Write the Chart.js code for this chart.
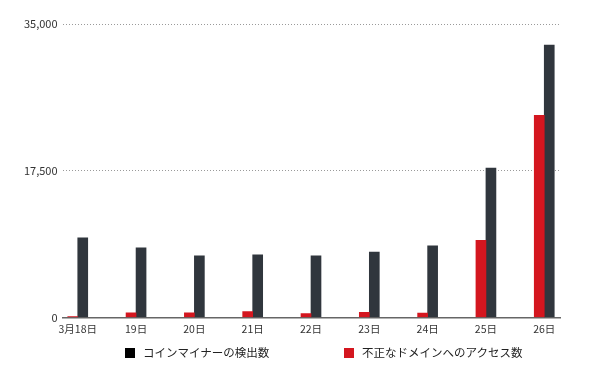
<!DOCTYPE html>
<html>
<head>
<meta charset="utf-8">
<script src="https://cdn.jsdelivr.net/npm/chart.js@4/dist/chart.umd.min.js"></script>
<style>
  html, body { margin: 0; padding: 0; background: #fff; }
  #wrap { position: relative; width: 590px; height: 383px; }
  .legend { position: absolute; top: 345px; font: 11.5px "Noto Sans CJK JP", sans-serif; color: #222; white-space: nowrap; line-height: 14px; }
  .legend i { display: inline-block; width: 10px; height: 10px; vertical-align: -1px; margin-right: 8px; }
</style>
</head>
<body>
<div id="wrap">
  <canvas id="chart" width="590" height="383"></canvas>
  <div class="legend" style="left:125px"><i style="background:#000"></i>コインマイナーの検出数</div>
  <div class="legend" style="left:344px"><i style="background:#d4161f"></i>不正なドメインへのアクセス数</div>
</div>
<script>
// categories and series
const days = ['3月18日', '19日', '20日', '21日', '22日', '23日', '24日', '25日', '26日'];
const miners = [9500, 8300, 7350, 7450, 7350, 7800, 8550, 17800, 32500];
const badDomains = [100, 550, 550, 700, 450, 600, 530, 9200, 24100];
const yTicks = [0, 17500, 35000];

const darkCol = '#30363d';
const redCol = '#d4161f';
const font = '"Noto Sans CJK JP", sans-serif';

// x is a numeric index axis so the first/last groups sit a little inside the grid ends
const toPoints = arr => arr.map((v, i) => ({ x: i, y: v }));

new Chart(document.getElementById('chart'), {
  type: 'bar',
  data: {
    datasets: [
      { label: '不正なドメインへのアクセス数', data: toPoints(badDomains), backgroundColor: redCol },
      { label: 'コインマイナーの検出数', data: toPoints(miners), backgroundColor: darkCol }
    ]
  },
  options: {
    responsive: false,
    animation: false,
    barThickness: 10,
    layout: { padding: { top: 24, left: 19, right: 30, bottom: 43 } },
    plugins: { legend: { display: false }, tooltip: { enabled: false } },
    scales: {
      x: {
        type: 'linear',
        offset: false,
        min: -0.26,
        max: days.length - 1 + 0.27,
        afterBuildTicks(axis) { axis.ticks = days.map((d, i) => ({ value: i })); },
        grid: { display: false, drawTicks: false },
        border: { display: true, color: '#666', width: 1.5 },
        ticks: { color: '#333', padding: 5, maxRotation: 0, autoSkip: false,
                 font: { family: font, size: 10.5 }, callback: v => days[v] }
      },
      y: {
        min: 0,
        max: 35000,
        afterBuildTicks(axis) { axis.ticks = yTicks.map(v => ({ value: v })); },
        grid: {
          drawTicks: false,
          color: c => c.tick && c.tick.value === 0 ? 'rgba(0,0,0,0)' : '#9a9a9a',
          lineWidth: 1
        },
        border: { display: false, dash: [1, 2] },
        ticks: {
          color: '#333',
          padding: 5,
          font: { family: font, size: 11 },
          callback: v => v.toLocaleString('en-US')
        }
      }
    }
  }
});
</script>
</body>
</html>
